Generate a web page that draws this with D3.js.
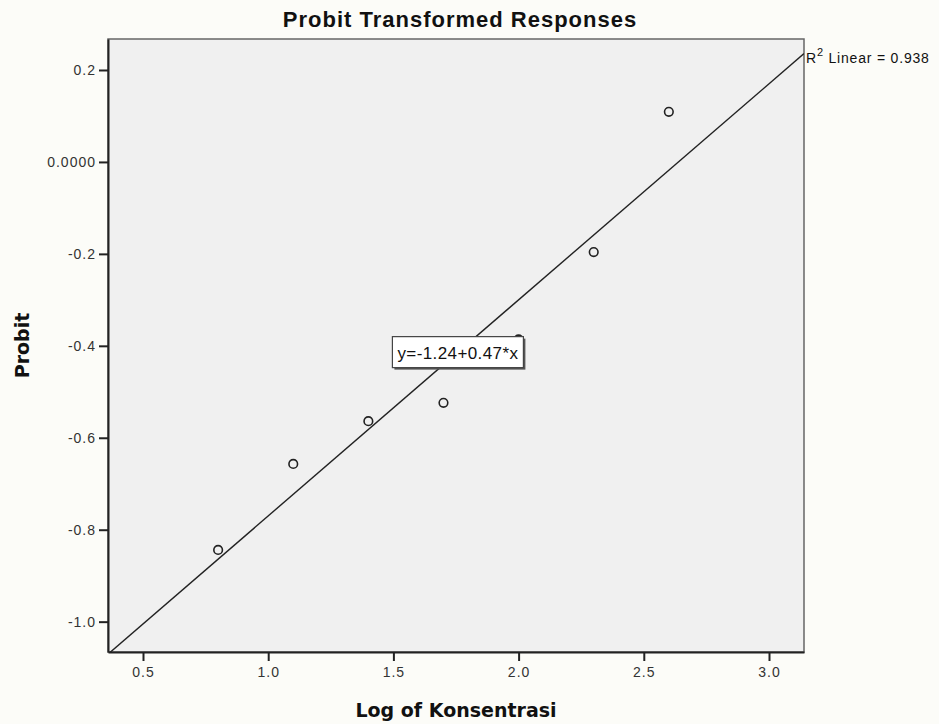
<!DOCTYPE html>
<html>
<head>
<meta charset="utf-8">
<script src="https://cdn.jsdelivr.net/npm/d3@7"></script>
<style>
  body { margin: 0; background: #fcfcf8; }
  svg { display: block; font-family: "Liberation Sans", Arial, sans-serif; }
</style>
</head>
<body>
<script>
var width = 939,
    height = 724;

// data
var logKonsentrasi = [0.8, 1.1, 1.4, 1.7, 2.0, 2.3, 2.6];
var probit = [-0.844, -0.657, -0.564, -0.524, -0.386, -0.196, 0.109];
var xTicks = [0.5, 1.0, 1.5, 2.0, 2.5, 3.0];
var yTicks = [0.2, 0.0, -0.2, -0.4, -0.6, -0.8, -1.0];
var yTickLabels = ['0.2', '0.0000', '-0.2', '-0.4', '-0.6', '-0.8', '-1.0'];
var fitIntercept = -1.24,
    fitSlope = 0.47,
    rSquared = '0.938';

var margin = { top: 39, right: 135, bottom: 72, left: 108 };
var plotW = width - margin.left - margin.right,
    plotH = height - margin.top - margin.bottom;
var tickLen = 9;

var svg = d3.select('body')
  .append('svg')
  .attr('width', width)
  .attr('height', height);

var xScale = d3.scaleLinear()
  .domain([0.3602, 3.1398])
  .range([margin.left, width - margin.right]);

var yScale = d3.scaleLinear()
  .domain([-1.066, 0.2674])
  .range([height - margin.bottom, margin.top]);

svg.append('clipPath')
  .attr('id', 'plot-clip')
  .append('rect')
  .attr('x', margin.left)
  .attr('y', margin.top)
  .attr('width', plotW)
  .attr('height', plotH);

svg.append('rect')
  .attr('x', margin.left)
  .attr('y', margin.top)
  .attr('width', plotW)
  .attr('height', plotH)
  .style('fill', '#f0f0f0')
  .style('stroke', '#666')
  .style('stroke-width', 1.5);

var xAxis = d3.axisBottom(xScale)
  .tickValues(xTicks)
  .tickFormat(d3.format('.1f'))
  .tickSize(tickLen)
  .tickPadding(6)
  .tickSizeOuter(0);

var yAxis = d3.axisLeft(yScale)
  .tickValues(yTicks)
  .tickFormat(function(d, i) { return yTickLabels[i]; })
  .tickSize(tickLen)
  .tickPadding(3)
  .tickSizeOuter(0);

var gx = svg.append('g')
  .attr('class', 'axis')
  .attr('transform', 'translate(0,' + (height - margin.bottom) + ')')
  .call(xAxis);

var gy = svg.append('g')
  .attr('class', 'axis')
  .attr('transform', 'translate(' + margin.left + ',0)')
  .call(yAxis);

[gx, gy].forEach(function(g) {
  g.select('.domain')
    .attr('stroke', '#222')
    .attr('stroke-width', 2);
  g.selectAll('.tick line')
    .attr('stroke', '#222')
    .attr('stroke-width', 2);
  g.selectAll('.tick text')
    .attr('font-family', '"Liberation Sans", Arial, sans-serif')
    .attr('font-size', 14)
    .attr('letter-spacing', 1)
    .attr('fill', '#333');
});

// fit line across the x range of the axis
var x0 = xScale.domain()[0], x1 = xScale.domain()[1];
svg.append('line')
  .attr('clip-path', 'url(#plot-clip)')
  .attr('x1', xScale(x0))
  .attr('y1', yScale(fitIntercept + fitSlope * x0))
  .attr('x2', xScale(x1))
  .attr('y2', yScale(fitIntercept + fitSlope * x1))
  .style('stroke', '#222')
  .style('stroke-width', 1.4);

svg.selectAll('circle.dot')
  .data(logKonsentrasi)
  .enter()
  .append('circle')
  .attr('class', 'dot')
  .attr('cx', function(d) { return xScale(d); })
  .attr('cy', function(d, i) { return yScale(probit[i]); })
  .attr('r', 4.3)
  .style('fill', 'none')
  .style('stroke', '#222')
  .style('stroke-width', 1.6);

// equation box
var eq = svg.append('g')
  .attr('transform', 'translate(' + xScale(1.496) + ',' + yScale(-0.38) + ')');
eq.append('rect')
  .attr('x', 2)
  .attr('y', 2)
  .attr('width', 131)
  .attr('height', 31)
  .style('fill', '#555');
eq.append('rect')
  .attr('width', 131)
  .attr('height', 31)
  .style('fill', '#fff')
  .style('stroke', '#444')
  .style('stroke-width', 1.2);
eq.append('text')
  .attr('x', 5)
  .attr('y', 22)
  .attr('letter-spacing', 0.4)
  .style('font-size', '17px')
  .style('fill', '#111')
  .text('y=-1.24+0.47*x');

// R squared label
var r2 = svg.append('text')
  .attr('x', width - margin.right + 2)
  .attr('y', yScale(fitIntercept + fitSlope * x1) + 9)
  .attr('letter-spacing', 0.8)
  .style('font-size', '14px')
  .style('fill', '#111');
r2.append('tspan').text('R');
r2.append('tspan').attr('dy', -7).style('font-size', '11px').text('2');
r2.append('tspan').attr('dy', 7).text(' Linear = ' + rSquared);

svg.append('text')
  .attr('x', (margin.left + width - margin.right) / 2 + 4)
  .attr('y', 27)
  .attr('text-anchor', 'middle')
  .attr('letter-spacing', 1)
  .style('font-size', '22px')
  .style('font-weight', 'bold')
  .style('fill', '#111')
  .text('Probit Transformed Responses');

svg.append('text')
  .attr('x', (margin.left + width - margin.right) / 2)
  .attr('y', 717)
  .attr('text-anchor', 'middle')
  .style('font-family', '"DejaVu Sans", sans-serif')
  .style('font-size', '19px')
  .style('font-weight', 'bold')
  .style('fill', '#111')
  .text('Log of Konsentrasi');

svg.append('text')
  .attr('transform', 'translate(29,' + ((margin.top + height - margin.bottom) / 2) + ') rotate(-90)')
  .attr('text-anchor', 'middle')
  .style('font-family', '"DejaVu Sans", sans-serif')
  .style('font-size', '19px')
  .style('font-weight', 'bold')
  .style('fill', '#111')
  .text('Probit');
</script>
</body>
</html>
